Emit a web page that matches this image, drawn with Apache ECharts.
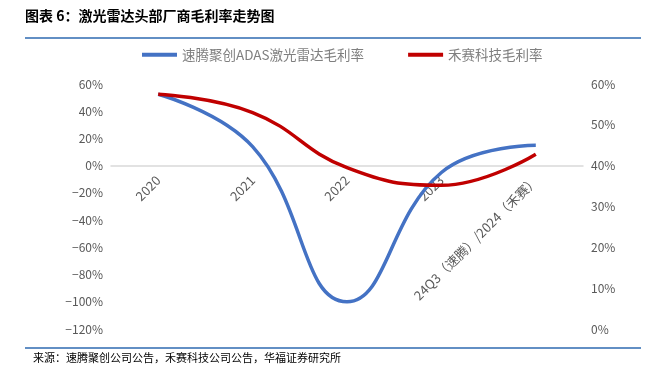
<!DOCTYPE html>
<html><head><meta charset="utf-8">
<script src="https://cdn.jsdelivr.net/npm/echarts@6/dist/echarts.min.js"></script>
<style>html,body{margin:0;padding:0;background:#fff}#c{width:667px;height:377px}</style>
</head><body><div id="c"></div>
<script>
var categories = ['2020', '2021', '2022', '2023', '24Q3（速腾）/2024（禾赛）'];
var robosense = [52.5, 14, -100, -5, 15];
var hesai = [57.5, 53, 39.5, 35.2, 42.8];
var leftTicks = [-120, -100, -80, -60, -40, -20, 0, 20, 40, 60];
var rightTicks = [0, 10, 20, 30, 40, 50, 60];
var seriesNames = ['速腾聚创ADAS激光雷达毛利率', '禾赛科技毛利率'];

var chart = echarts.init(document.getElementById('c'));
var cjk = '"Noto Sans CJK SC", sans-serif';
chart.setOption({
  animation: false,
  textStyle: {fontFamily: cjk},
  graphic: [
    {type: 'text', left: 25, top: 9, style: {text: '图表 6：激光雷达头部厂商毛利率走势图', font: 'bold 14px "Noto Sans CJK SC"', fill: '#000'}},
    {type: 'line', shape: {x1: 25, y1: 38, x2: 641, y2: 38}, style: {stroke: '#2E6AB1', lineWidth: 1.5}},
    {type: 'line', shape: {x1: 25, y1: 348, x2: 641, y2: 348}, style: {stroke: '#2E6AB1', lineWidth: 1.5}},
    {type: 'text', left: 33, top: 352, style: {text: '来源：速腾聚创公司公告，禾赛科技公司公告，华福证券研究所', font: '11px "Noto Sans CJK SC"', fill: '#000'}}
  ],
  legend: {
    top: 43, left: 137, itemGap: 44, itemWidth: 35, itemHeight: 4,
    icon: 'rect',
    textStyle: {color: '#7f7f7f', fontSize: 13.5, fontFamily: cjk},
    data: seriesNames
  },
  grid: [
    {left: 111, right: 84, top: 84, bottom: 48, containLabel: false, outerBoundsMode: 'none'},
    {left: 111, right: 84, top: 84, height: 82, containLabel: false, outerBoundsMode: 'none'}
  ],
  xAxis: [
    {type: 'category', data: categories, boundaryGap: true, gridIndex: 0,
     axisLine: {onZero: true, lineStyle: {color: '#d9d9d9', width: 1.5}},
     axisTick: {show: false}, axisLabel: {show: false}},
    {type: 'category', data: categories, boundaryGap: true, gridIndex: 1,
     axisLine: {show: false}, axisTick: {show: false},
     axisLabel: {rotate: 45, color: '#595959', fontSize: 13, margin: 12, interval: 0, fontFamily: cjk, hideOverlap: false}}
  ],
  yAxis: [
    {type: 'value', gridIndex: 0, min: leftTicks[0], max: leftTicks[leftTicks.length - 1], interval: 20,
     axisLine: {show: false}, axisTick: {show: false}, splitLine: {show: false},
     axisLabel: {color: '#595959', fontSize: 12, margin: 8, formatter: function (v) { return (v < 0 ? '−' + (-v) : v) + '%'; }}},
    {type: 'value', gridIndex: 0, min: rightTicks[0], max: rightTicks[rightTicks.length - 1], interval: 10,
     axisLine: {show: false}, axisTick: {show: false}, splitLine: {show: false},
     axisLabel: {color: '#595959', fontSize: 12, margin: 8, formatter: '{value}%'}},
    {type: 'value', gridIndex: 1, show: false}
  ],
  series: [
    {name: seriesNames[0], type: 'line', data: robosense, xAxisIndex: 0, yAxisIndex: 0, smooth: 0.45, symbol: 'none',
     itemStyle: {color: '#4472C4'}, lineStyle: {color: '#4472C4', width: 3.5}},
    {name: seriesNames[1], type: 'line', data: hesai, xAxisIndex: 0, yAxisIndex: 1, smooth: 0.45, symbol: 'none',
     itemStyle: {color: '#C00000'}, lineStyle: {color: '#C00000', width: 3.5}}
  ]
});
</script></body></html>
